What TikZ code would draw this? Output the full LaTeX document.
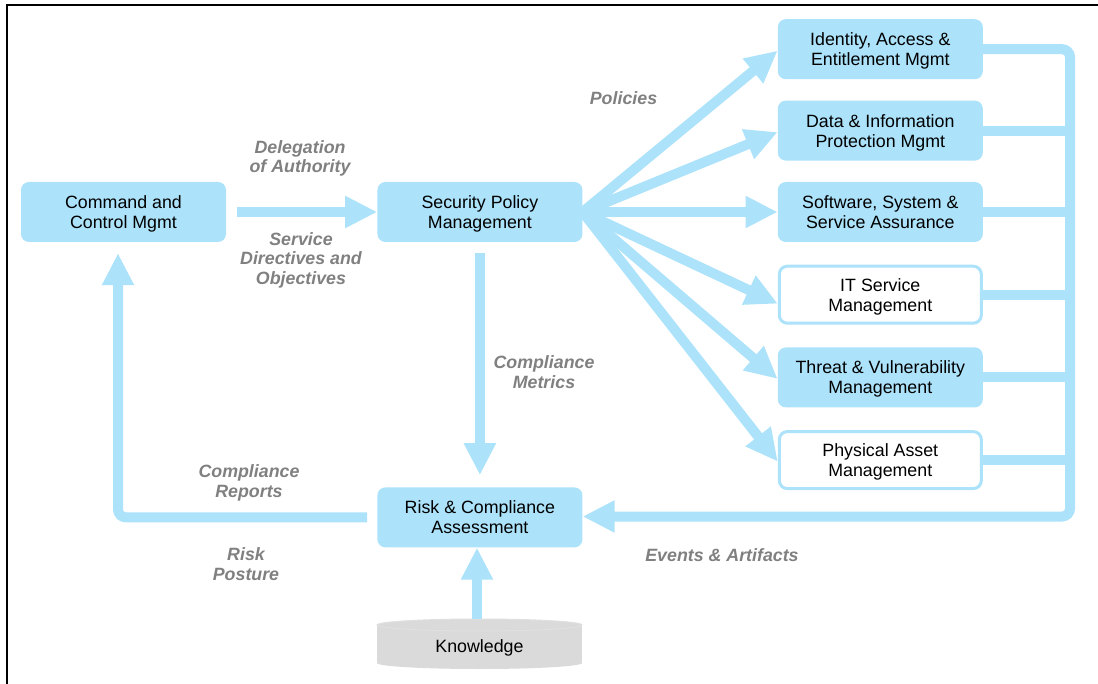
\documentclass[tikz,border=0pt]{standalone}
\usepackage{fontspec}
\setmainfont{Liberation Sans}
\usetikzlibrary{positioning,arrows.meta}
\definecolor{flowblue}{RGB}{172,226,250}
\definecolor{lblgray}{RGB}{128,128,128}
\definecolor{kgray}{RGB}{218,218,218}
\tikzset{%
  box/.style={fill=flowblue,rounded corners=8pt,minimum width=205pt,minimum height=60pt,
    inner sep=0pt,text depth=0pt,align=center,font=\fontsize{17.8}{20}\selectfont},
  hollow/.style={box,fill=white,draw=flowblue,line width=3pt,minimum width=202pt,minimum height=57pt},
  link/.style={draw=flowblue,line width=10pt},
  flow/.style={link,-{Triangle[length=32pt,width=30pt]}},
  lbl/.style={color=lblgray,align=center,font=\fontsize{17.8}{19.5}\selectfont\bfseries\itshape}
}

\begin{document}
\begin{tikzpicture}[x=1pt,y=-1pt]
  \useasboundingbox (0,0) rectangle (1098,684);
  \draw[line width=1.5pt] (7,684) -- (7,5) -- (1098,5);

  \node[box] (cmd) at (123.5,212) {Command and\\Control Mgmt};
  \node[box,right=151pt of cmd] (sec) {Security Policy\\Management};
  \node[box,below=245pt of sec] (risk) {Risk \& Compliance\\Assessment};

  \node[box,right=195pt of sec] (ssa) {Software, System \&\\Service Assurance};
  \node[box,above=21pt of ssa] (dip) {Data \& Information\\Protection Mgmt};
  \node[box,above=21pt of dip] (iam) {Identity, Access \&\\Entitlement Mgmt};
  \node[hollow,below=22.5pt of ssa] (itsm) {IT Service\\Management};
  \node[box,below=22.5pt of itsm] (tvm) {Threat \& Vulnerability\\Management};
  \node[hollow,below=22.5pt of tvm] (pam) {Physical Asset\\Management};

  % knowledge store
  \fill[kgray] (479.5,663) ellipse (102.5 and 6);
  \fill[kgray] (377,625) rectangle (582,663);
  \filldraw[fill=kgray,draw=white!88!black,line width=1pt] (479.5,625) ellipse (102.5 and 6);
  \node[font=\fontsize{17.8}{20}\selectfont] (know) at (479.5,648) {Knowledge};
  \coordinate (ktop) at (477,619);

  % main flows
  \draw[flow,shorten <=11pt] (cmd.east) -- (sec.west);
  \draw[flow,shorten <=11pt,shorten >=12pt] (sec.south) -- (risk.north);
  \draw[flow] (ktop) -- (ktop |- risk.south);
  \draw[flow,rounded corners=8pt,shorten <=10pt,shorten >=11pt]
    (risk.west) -| ([xshift=-5.5pt]cmd.south);

  \foreach \b in {iam,dip,tvm,pam}
    \draw[flow] (sec.east) -- ([yshift=-1.5pt]\b.west);
  \draw[flow] (sec.east) -- (ssa.west);
  \draw[flow] (sec.east) -- ([yshift=-9pt]itsm.west);

  % feedback to assessment
  \coordinate (bar) at (1070,516.5);
  \draw[flow,rounded corners=8pt] (iam.east) -| (bar) -- (bar -| risk.east);
  \foreach \b in {dip,ssa,itsm,tvm,pam}
    \draw[link] (\b.east) -- (\b.east -| bar);

  \node[lbl] (doa) at (300,158.5) {Delegation\\of Authority};
  \node[lbl] (sdo) at (301,260) {Service\\Directives and\\Objectives};
  \node[lbl] (pol) at (623.5,98) {Policies};
  \node[lbl] (cm) at (544,372) {Compliance\\Metrics};
  \node[lbl] (cr) at (249,483) {Compliance\\Reports};
  \node[lbl] (rp) at (246,564) {Risk\\Posture};
  \node[lbl] (ea) at (722,555) {Events \& Artifacts};
\end{tikzpicture}
\end{document}
